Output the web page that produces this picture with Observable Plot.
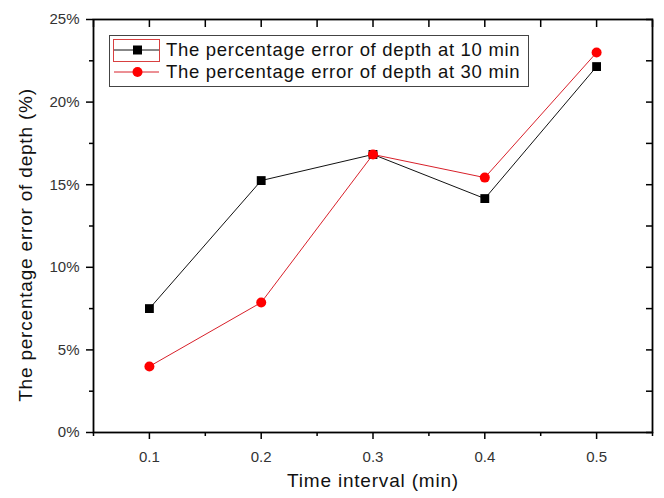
<!DOCTYPE html>
<html>
<head>
<meta charset="utf-8">
<script src="https://cdn.jsdelivr.net/npm/d3@7"></script>
<script src="https://cdn.jsdelivr.net/npm/@observablehq/plot@0.6"></script>
<style>
  body { margin: 0; background: #fff; }
  #wrap { position: relative; width: 664px; height: 498px; font-family: "Liberation Sans", Arial, sans-serif; }
  #legend { position: absolute; left: 109px; top: 35px; width: 418px; height: 50px; border: 1px solid #444; background: #fff; }
  .row { position: absolute; left: 0; height: 24px; display: flex; align-items: center; font-size: 18.5px; color: #111; letter-spacing: 0.7px; white-space: nowrap; }
  .row svg { margin-left: 2px; margin-right: 4px; flex: none; }
</style>
</head>
<body>
<div id="wrap"></div>
<script>
const intervals = [0.1, 0.2, 0.3, 0.4, 0.5];
const err10 = [7.5, 15.25, 16.83, 14.16, 22.15];
const err30 = [4.0, 7.87, 16.83, 15.43, 23.0];
const seriesNames = ["The percentage error of depth at 10 min", "The percentage error of depth at 30 min"];
const yMajor = [0, 5, 10, 15, 20, 25];
const yMinor = [2.5, 7.5, 12.5, 17.5, 22.5];
const xMajor = [0.1, 0.2, 0.3, 0.4, 0.5];
const xMinor = [0.05, 0.15, 0.25, 0.35, 0.45, 0.55];
const xTitle = "Time interval (min)";
const yTitle = "The percentage error of depth (%)";

const d10 = intervals.map((x, i) => ({x, y: err10[i]}));
const d30 = intervals.map((x, i) => ({x, y: err30[i]}));
const allY = [...yMajor, ...yMinor].sort((a, b) => a - b);
const allX = [...xMajor, ...xMinor].sort((a, b) => a - b);

const chart = Plot.plot({
  width: 664,
  height: 498,
  marginLeft: 93,
  marginRight: 12,
  marginTop: 19,
  marginBottom: 66,
  style: { fontFamily: "Liberation Sans, Arial, sans-serif", fontSize: "15px", color: "#333", background: "#fff" },
  x: { domain: [0.05, 0.55] },
  y: { domain: [0, 25] },
  marks: [
    Plot.axisY({ ticks: yMajor, tickSize: 7, tickPadding: 7, tickFormat: d => d + "%", label: null, fontSize: 15, strokeWidth: 1.5, stroke: "black", fill: "#333" }),
    Plot.axisY({ ticks: yMinor, tickSize: 4, tickFormat: () => "", label: null, strokeWidth: 1.5, stroke: "black" }),
    Plot.axisY({ anchor: "right", ticks: allY, tickSize: -7, tickFormat: () => "", label: null, strokeWidth: 1.5, stroke: "black" }),
    Plot.axisX({ ticks: xMajor, tickSize: 7, tickPadding: 12, tickFormat: d => d.toFixed(1), label: null, fontSize: 15, strokeWidth: 1.5, stroke: "black", fill: "#333" }),
    Plot.axisX({ ticks: xMinor, tickSize: 4, tickFormat: () => "", label: null, strokeWidth: 1.5, stroke: "black" }),
    Plot.axisX({ anchor: "top", ticks: allX, tickSize: -7, tickFormat: () => "", label: null, strokeWidth: 1.5, stroke: "black" }),
    Plot.frame({ stroke: "black", strokeWidth: 1.8 }),
    Plot.line(d10, { x: "x", y: "y", stroke: "#111", strokeWidth: 1 }),
    Plot.dot(d10, { x: "x", y: "y", symbol: "square", r: 5, fill: "black" }),
    Plot.line(d30, { x: "x", y: "y", stroke: "#d8202a", strokeWidth: 1 }),
    Plot.dot(d30, { x: "x", y: "y", symbol: "circle", r: 5, fill: "#ff0000" }),
    Plot.text([xTitle], { frameAnchor: "bottom", dy: 54, text: d => d, fontSize: 19, fill: "#111", textAnchor: "middle", style: "letter-spacing:0.8px" }),
    Plot.text([yTitle], { frameAnchor: "left", dx: -68, dy: 19, rotate: -90, textAnchor: "middle", text: d => d, fontSize: 19, fill: "#111" })
  ]
});
const wrap = document.getElementById("wrap");
wrap.appendChild(chart);
// letter spacing for titles
chart.querySelectorAll("text").forEach(t => {
  if (t.textContent === xTitle || t.textContent === yTitle) t.setAttribute("letter-spacing", "0.8");
});

const legend = document.createElement("div");
legend.id = "legend";
const symbols = [
  `<svg width="50" height="24"><rect x="1.5" y="1.5" width="46" height="22" fill="none" stroke="#d84040" stroke-width="1"/><line x1="2" y1="12" x2="47" y2="12" stroke="#111" stroke-width="1"/><rect x="21" y="7.5" width="9" height="9" fill="black"/></svg>`,
  `<svg width="50" height="24"><line x1="2" y1="12" x2="47" y2="12" stroke="#d8202a" stroke-width="1"/><circle cx="25.5" cy="12" r="5" fill="#ff0000"/></svg>`
];
seriesNames.forEach((name, i) => {
  const row = document.createElement("div");
  row.className = "row";
  row.style.top = (2 + i * 22) + "px";
  row.innerHTML = symbols[i] + `<span>${name}</span>`;
  legend.appendChild(row);
});
wrap.appendChild(legend);
</script>
</body>
</html>
